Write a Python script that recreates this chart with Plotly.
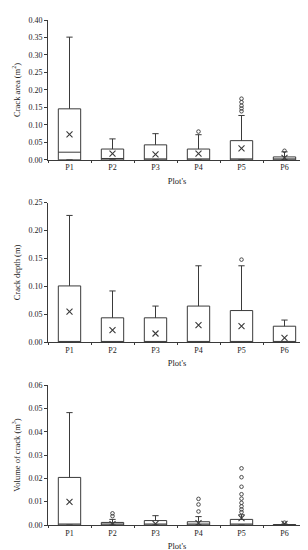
import plotly.graph_objects as go
from plotly.subplots import make_subplots

categories = ["P1", "P2", "P3", "P4", "P5", "P6"]

# Panel 1: crack area (m2)
area_q1 = [0, 0, 0, 0, 0, 0]
area_median = [0.022, 0.004, 0.0, 0.0, 0.0, 0.0]
area_q3 = [0.146, 0.031, 0.043, 0.031, 0.055, 0.0085]
area_upper = [0.351, 0.060, 0.075, 0.072, 0.127, 0.023]
area_mean = [0.073, 0.018, 0.016, 0.018, 0.033, 0.006]
area_out_x = ["P4", "P5", "P5", "P5", "P5", "P5", "P6"]
area_out_y = [0.081, 0.139, 0.147, 0.155, 0.165, 0.175, 0.026]

# Panel 2: crack depth (m)
depth_q1 = [0, 0, 0, 0, 0, 0]
depth_median = [0, 0, 0, 0, 0, 0]
depth_q3 = [0.101, 0.044, 0.044, 0.065, 0.057, 0.029]
depth_upper = [0.227, 0.092, 0.065, 0.137, 0.137, 0.040]
depth_mean = [0.055, 0.022, 0.016, 0.031, 0.029, 0.008]
depth_out_x = ["P5"]
depth_out_y = [0.148]

# Panel 3: volume of crack (m3)
vol_q1 = [0, 0, 0, 0, 0, 0]
vol_median = [0, 0, 0, 0, 0, 0]
vol_q3 = [0.0204, 0.0011, 0.0019, 0.0014, 0.0024, 0.0002]
vol_upper = [0.0482, 0.0024, 0.0040, 0.0036, 0.0044, 0.0004]
vol_mean = [0.0099, 0.0004, 0.0005, 0.0008, 0.0029, 0.0005]
vol_out_x = ["P2", "P2", "P4", "P4", "P4",
             "P5", "P5", "P5", "P5", "P5", "P5", "P5", "P5", "P5", "P6"]
vol_out_y = [0.0038, 0.0050, 0.0058, 0.0088, 0.0112,
             0.0055, 0.0067, 0.0080, 0.0095, 0.0113, 0.0132, 0.0164, 0.0205, 0.0243, 0.0010]

y_titles = ["Crack area (m<sup>2</sup>)", "Crack depth (m)", "Volume of crack (m<sup>3</sup>)"]
y_ranges = [[0, 0.40], [0, 0.25], [0, 0.06]]
y_dticks = [0.05, 0.05, 0.01]

panels = [
    (area_q1, area_median, area_q3, area_upper, area_mean, area_out_x, area_out_y),
    (depth_q1, depth_median, depth_q3, depth_upper, depth_mean, depth_out_x, depth_out_y),
    (vol_q1, vol_median, vol_q3, vol_upper, vol_mean, vol_out_x, vol_out_y),
]

LINE = "#3a3a3a"
FONT = "Liberation Serif"

fig = make_subplots(rows=3, cols=1)

for i, (q1, med, q3, up, mean, ox, oy) in enumerate(panels, start=1):
    fig.add_trace(go.Box(
        x=categories, q1=q1, median=med, q3=q3,
        lowerfence=q1, upperfence=up,
        width=0.52, whiskerwidth=0.28,
        fillcolor="white", line=dict(color=LINE, width=1),
        showlegend=False, hoverinfo="skip",
    ), row=i, col=1)
    fig.add_trace(go.Scatter(
        x=categories, y=mean, mode="markers",
        marker=dict(symbol="x-thin", size=6, line=dict(color=LINE, width=1.1)),
        showlegend=False, hoverinfo="skip",
    ), row=i, col=1)
    fig.add_trace(go.Scatter(
        x=ox, y=oy, mode="markers",
        marker=dict(symbol="circle-open", size=3.6, color=LINE, line=dict(color=LINE, width=0.9)),
        showlegend=False, hoverinfo="skip",
    ), row=i, col=1)

domains = [[0.723, 1.0], [0.3615, 0.6385], [0.0, 0.277]]

for i in range(3):
    fig.update_yaxes(
        domain=domains[i], range=y_ranges[i], dtick=y_dticks[i], tick0=0,
        tickformat=".2f", showgrid=False, zeroline=False,
        showline=True, linecolor=LINE, linewidth=1,
        ticks="outside", ticklen=3, tickcolor=LINE,
        tickfont=dict(family=FONT, size=8, color="#222"),
        title=dict(text=y_titles[i], font=dict(family=FONT, size=8.5, color="#222"), standoff=6),
        row=i + 1, col=1,
    )
    fig.update_xaxes(
        type="category", range=[-0.5, 5.5], showgrid=False, zeroline=False,
        showline=True, linecolor=LINE, linewidth=1,
        ticks="outside", ticklen=2, tickcolor=LINE, tickson="boundaries",
        tickfont=dict(family=FONT, size=8, color="#222"),
        title=dict(text="Plot's", font=dict(family=FONT, size=8.5, color="#222"), standoff=6),
        row=i + 1, col=1,
    )

fig.update_layout(
    width=308, height=550,
    margin=dict(l=39, r=10, t=8, b=33),
    paper_bgcolor="white", plot_bgcolor="white",
    showlegend=False,
)

fig.write_html("out.html")
